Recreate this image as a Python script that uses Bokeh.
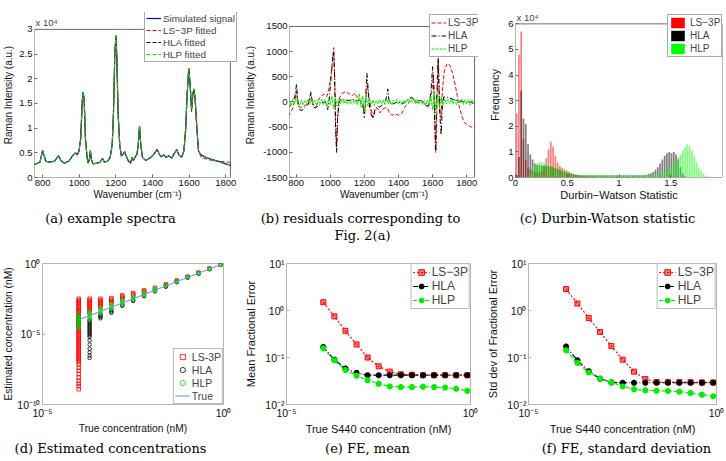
from bokeh.plotting import figure
from bokeh.models import (Range1d, FixedTicker, CustomJSTickFormatter, Legend,
                          LegendItem, Label)
from bokeh.layouts import row, column
from bokeh.embed import file_html
from bokeh.resources import INLINE

SANS = "Liberation Sans"
SERIF = "DejaVu Serif"
RED, BLACK, GREEN, BLUE = "#ff0000", "#000000", "#00ee00", "#0000ff"
NAN = float("nan")

# ---------------- (a) example spectra ----------------
wn_a = [754, 786, 800, 818, 839, 866, 887, 901, 919, 946, 963, 978, 990, 999, 1008, 1017, 1022,
        1027, 1034, 1043, 1049, 1056, 1061, 1066, 1075, 1097, 1114, 1127, 1137, 1155, 1169, 1180,
        1187, 1194, 1200, 1205, 1212, 1221, 1230, 1240, 1248, 1256, 1269, 1280, 1288, 1295, 1304,
        1315, 1322, 1329, 1336, 1345, 1363, 1390, 1407, 1425, 1437, 1448, 1461, 1475, 1487, 1505,
        1518, 1532, 1542, 1558, 1571, 1581, 1588, 1596, 1599, 1606, 1613, 1620, 1626, 1633, 1642,
        1651, 1665, 1692, 1727, 1763, 1798, 1825]
sim_signal = [2600, 3100, 5480, 3300, 3100, 3300, 4400, 3400, 2900, 3400, 4400, 5000, 4700, 5350,
              7900, 15700, 17300, 15700, 7900, 4060, 2900, 3740, 5480, 3740, 2770, 2900, 3100, 3900,
              3100, 3300, 4060, 6640, 13100, 24700, 28700, 24700, 13100, 6640, 4390, 4700, 5220,
              4390, 3290, 2900, 4060, 3420, 4060, 4700, 6640, 10380, 6640, 4060, 3420, 4060, 4700,
              5680, 4700, 4190, 4580, 4060, 4390, 3930, 4840, 5680, 4700, 4060, 5350, 9870, 16300,
              21150, 21800, 18250, 13700, 16960, 17930, 15670, 9870, 5350, 4580, 4060, 3610, 3220,
              2770, 2500]
ls3p_fit = [2600, 3100, 5480, 3300, 3100, 3300, 4400, 3400, 2900, 3400, 4400, 5000, 4500, 5350,
            7900, 15700, 17300, 15700, 7900, 4060, 2900, 3740, 5480, 3740, 2770, 2900, 3100, 3900,
            3100, 3300, 4060, 6640, 13100, 24700, 28700, 24700, 13100, 6640, 4390, 4700, 5220,
            4390, 3290, 2900, 4060, 3420, 4060, 4700, 6640, 10380, 6640, 4060, 3420, 4060, 4700,
            5680, 4700, 4190, 4580, 4060, 4390, 3930, 4840, 5680, 4700, 4060, 5350, 9870, 16300,
            21400, 22300, 18250, 13300, 16960, 17930, 15670, 9870, 5350, 4100, 3750, 3450, 3300,
            3150, 3100]
hla_fit = list(sim_signal)
hlp_fit = list(sim_signal)
A_XLIM, A_YLIM = (756, 1825), (0, 30000)

# ---------------- (b) residuals ----------------
ls3p_res_x = [754, 773, 792, 802, 811, 825, 840, 860, 875, 889, 899, 917, 937, 951, 966, 980, 991,
              1005, 1015, 1020, 1026, 1031, 1037, 1043, 1053, 1072, 1092, 1111, 1131, 1144, 1160,
              1173, 1189, 1200, 1208, 1218, 1227, 1241, 1251, 1262, 1276, 1291, 1305, 1320, 1334,
              1347, 1363, 1382, 1401, 1421, 1434, 1450, 1469, 1483, 1498, 1518, 1537, 1556, 1575,
              1595, 1605, 1614, 1620, 1626, 1634, 1641, 1649, 1657, 1668, 1682, 1691, 1701, 1711,
              1724, 1740, 1753, 1769, 1782, 1798, 1817, 1840]
ls3p_res = [-283, -184, 13, 210, -50, -118, -86, -50, 13, 110, -50, -86, 80, 130, 160, 110, 240,
            540, 870, 1080, 540, -450, -900, -316, 80, 178, 210, 160, 130, 178, 80, 46, -20, -316,
            13, 342, 80, -151, -316, -184, -118, -217, -151, -118, -118, -217, -263, -237, -263,
            -217, -118, -50, 13, 80, 13, -20, 13, -50, -118, 210, 540, -450, -975, 13, 870, -118,
            -316, 210, 605, 737, 770, 724, 638, 474, 210, -50, -250, -382, -447, -480, -520]
hla_res_x = [754, 773, 792, 802, 811, 820, 835, 850, 870, 887, 895, 910, 930, 950, 970, 985, 995,
             1005, 1015, 1020, 1026, 1031, 1037, 1043, 1053, 1070, 1090, 1110, 1130, 1150, 1170,
             1190, 1200, 1208, 1215, 1222, 1230, 1240, 1250, 1262, 1275, 1290, 1305, 1320, 1330,
             1337, 1345, 1360, 1380, 1400, 1420, 1440, 1460, 1475, 1490, 1510, 1530, 1550, 1565,
             1580, 1590, 1600, 1607, 1612, 1617, 1622, 1627, 1632, 1637, 1643, 1650, 1657, 1665,
             1680, 1700, 1720, 1740, 1760, 1780, 1800, 1820, 1840]
hla_res = [-100, -50, 100, 350, -20, -150, -170, -100, -50, 200, -40, -120, -80, -20, 0, -150, 100,
           500, 900, 1000, 400, -500, -1000, -300, 30, 60, 40, 30, 50, 20, 30, -50, -250, 150, 570,
           250, -100, -250, -320, -150, -80, -100, -60, -20, 100, 260, 20, -50, -20, 0, -30, -10,
           40, 100, 50, 20, 30, -30, -80, -50, 200, 700, 300, -400, -1000, -200, 400, 850, 300,
           -300, -650, -100, 100, 100, 80, 50, 30, 20, 0, -20, 0, -30]
hlp_res_x = list(range(760, 1841, 10))
hlp_res = [20, -60, 50, -40, 90, -30, -80, 40, -60, 30,
           -20, 60, -50, 80, -40, 30, -70, 50, -30, 60,
           -50, 40, -90, 70, -60, 120, -130, 100, -80, 60,
           -40, 50, -30, 40, -50, 30, -40, 60, -30, 40,
           -60, 170, -100, 120, -200, 150, -80, 60, -50, 40,
           -70, 30, -40, 50, -30, 40, -50, 60, -40, 30,
           -50, 40, -30, 50, -40, 30, -50, 40, -30, 60,
           -20, 80, -10, 60, -40, 50, -30, 40, -50, 30,
           -60, 40, -80, 120, -150, 200, -250, 150, -120, 100,
           -60, 70, -40, 50, -30, 60, -40, 50, -50, 40,
           -30, 60, -50, 40, -40, 50, -60, 40, -30]
B_XLIM, B_YLIM = (761, 1846), (-1500, 1500)

# ---------------- (c) Durbin-Watson histograms (counts in units of 1e4) ----------------
dw_bin_start, dw_bin_width = 0.0, 0.022
ls3p_dw = [2.5, 4.8, 5.7, 1.5, 0.7, 0.4, 0.3, 0.25, 0.2, 0.2,
           0.22, 0.25, 0.45, 0.75, 1.1, 1.4, 1.2, 0.85, 0.6, 0.45,
           0.38, 0.32, 0.27, 0.22, 0.18, 0.14, 0.11, 0.09, 0.07, 0.06,
           0.05, 0.05, 0.04, 0.04, 0.04, 0.03, 0.03, 0.03, 0.03, 0.03,
           0.02, 0.02, 0.02, 0.02, 0.02, 0.02, 0.02, 0.02, 0.02, 0.02,
           0.02, 0.01, 0.01, 0.01, 0.01, 0.01, 0.01, 0.01, 0.01, 0.01,
           0.01, 0, 0, 0, 0, 0, 0, 0, 0, 0,
           0, 0, 0, 0, 0, 0, 0, 0, 0, 0,
           0, 0, 0, 0, 0, 0, 0, 0, 0, 0]
hla_dw = [0.1, 0.8, 3.4, 2.3, 2.1, 1.3, 0.9, 0.7, 0.55, 0.5,
          0.48, 0.47, 0.46, 0.45, 0.44, 0.42, 0.4, 0.37, 0.33, 0.3,
          0.26, 0.22, 0.19, 0.16, 0.14, 0.12, 0.11, 0.1, 0.1, 0.1,
          0.09, 0.09, 0.09, 0.09, 0.09, 0.09, 0.09, 0.09, 0.09, 0.09,
          0.09, 0.09, 0.09, 0.09, 0.09, 0.09, 0.09, 0.09, 0.09, 0.09,
          0.09, 0.09, 0.09, 0.09, 0.09, 0.09, 0.1, 0.12, 0.14, 0.17,
          0.22, 0.3, 0.4, 0.55, 0.7, 0.85, 0.95, 1.0, 0.95, 1.0,
          0.9, 0.7, 0.4, 0.15, 0.05, 0, 0, 0, 0, 0,
          0, 0, 0, 0, 0, 0, 0, 0, 0, 0]
hlp_dw = [0, 0, 0, 0, 0, 0.05, 0.2, 0.35, 0.48, 0.55,
          0.6, 0.6, 0.57, 0.53, 0.5, 0.47, 0.44, 0.41, 0.38, 0.34,
          0.3, 0.26, 0.22, 0.19, 0.16, 0.14, 0.12, 0.11, 0.1, 0.1,
          0.1, 0.1, 0.1, 0.1, 0.1, 0.1, 0.1, 0.1, 0.1, 0.1,
          0.09, 0.09, 0.09, 0.09, 0.09, 0.09, 0.09, 0.09, 0.09, 0.09,
          0.09, 0.09, 0.09, 0.09, 0.09, 0.09, 0.09, 0.09, 0.09, 0.09,
          0.1, 0.11, 0.13, 0.15, 0.18, 0.22, 0.28, 0.35, 0.45, 0.55,
          0.68, 0.8, 0.92, 1.05, 1.18, 1.3, 1.22, 1.05, 0.85, 0.6,
          0.4, 0.25, 0.15, 0.08, 0.05, 0.03, 0.02, 0.01, 0, 0]
C_XLIM, C_YLIM = (0, 2.0), (0, 60000)

# ---------------- (d)-(f) concentrations ----------------
true_conc = [1e-4, 2e-4, 4e-4, 8e-4, 1.6e-3, 3.2e-3, 6.4e-3, 1.28e-2, 2.56e-2, 5.12e-2,
             0.1024, 0.2048, 0.4096, 0.8192]
ls3p_est = [
    [3.2e-3, 2.5e-3, 2e-3, 1.6e-3, 1.3e-3, 1e-3, 8e-4, 6.3e-4, 5e-4, 4e-4, 3.2e-4, 2.5e-4, 2e-4,
     1.6e-4, 1.3e-4, 1e-4, 8e-5, 6.3e-5, 5e-5, 4e-5, 3.2e-5, 2.5e-5, 2e-5, 1.6e-5, 1.3e-5,
     1e-5, 8e-6, 6.3e-6, 5e-6, 4e-6, 3.2e-6, 2.5e-6, 2e-6, 1.6e-6, 1.3e-6, 1e-6, 8e-7, 6.3e-7,
     5e-7, 4e-7, 3.2e-7, 2.5e-7, 2e-7, 1.6e-7, 1.3e-7, 1e-7, 7e-8, 4e-8, 2.5e-8, 1.5e-8, 8e-9,
     5e-9, 3e-9, 2e-9, 1.2e-9],
    [3.2e-3, 2.5e-3, 2e-3, 1.6e-3, 1.3e-3, 1e-3, 8e-4, 6.3e-4, 5e-4, 4e-4, 3.2e-4],
    [3.2e-3, 2.5e-3, 2e-3, 1.6e-3, 1.3e-3, 1e-3, 8e-4],
    [3.5e-3, 2.8e-3, 2.2e-3, 1.8e-3, 1.5e-3],
    [5.5e-3, 4.5e-3, 3.7e-3, 3e-3],
    [8e-3, 6.5e-3, 5.3e-3],
    [1.25e-2, 1.05e-2, 9e-3],
    [1.9e-2, 1.6e-2],
    [3.3e-2, 2.9e-2],
    [6.2e-2, 5.6e-2],
    [0.115, 0.108],
    [0.222, 0.212],
    [0.43, 0.42],
    [0.85, 0.83],
]
hla_est = [
    [2e-4, 1.3e-4, 8e-5, 5e-5, 3.5e-5],
    [1e-4, 8e-5, 6.3e-5, 5e-5, 4e-5, 3.2e-5, 2.5e-5, 2e-5, 1.6e-5, 1.3e-5, 1e-5, 8e-6, 6.3e-6,
     3.5e-6, 1.8e-6, 9e-7, 5e-7, 3e-7, 2e-7],
    [2.5e-4, 2e-4, 1.6e-4, 1.3e-4],
    [5e-4, 4e-4, 3.2e-4],
    [1.2e-3, 1e-3],
    [2.5e-3, 2.2e-3],
    [5.2e-3, 4.8e-3],
    [1.15e-2, 1.05e-2],
    [2.4e-2, 2.25e-2],
    [4.9e-2, 4.7e-2],
    [0.099, 0.096],
    [0.2, 0.195],
    [0.405, 0.4],
    [0.815, 0.81],
]
hlp_est = [
    [2.5e-4, 2e-4, 1.6e-4, 1.3e-4, 1e-4, 8e-5, 6.3e-5, 5e-5, 4e-5, 3.2e-5, 2.6e-5],
    [4e-4, 3.2e-4, 2.5e-4, 2e-4, 1.6e-4, 1.3e-4, 1e-4],
    [7e-4, 5.6e-4, 4.5e-4, 3.6e-4, 2.8e-4],
    [1.4e-3, 1.15e-3, 9e-4, 7.2e-4, 5.8e-4],
    [2.6e-3, 2.2e-3, 1.8e-3, 1.5e-3, 1.25e-3],
    [4.8e-3, 4e-3, 3.3e-3, 2.8e-3],
    [9e-3, 7.6e-3, 6.4e-3, 5.5e-3],
    [1.6e-2, 1.4e-2, 1.25e-2, 1.12e-2],
    [3.0e-2, 2.7e-2, 2.5e-2],
    [5.8e-2, 5.3e-2, 4.9e-2],
    [0.112, 0.103, 0.095],
    [0.22, 0.205, 0.19],
    [0.43, 0.41, 0.39],
    [0.85, 0.82, 0.79],
]
fe_mean_ls3p = [1.50, 0.75, 0.37, 0.19, 0.10, 0.065, 0.050, 0.044, 0.043, 0.042, 0.042, 0.042, 0.042, 0.042]
fe_mean_hla = [0.167, 0.090, 0.058, 0.047, 0.042, 0.042, 0.042, 0.042, 0.042, 0.042, 0.042, 0.042, 0.042, 0.042]
fe_mean_hlp = [0.158, 0.087, 0.054, 0.041, 0.033, 0.0275, 0.0243, 0.0235, 0.0235, 0.024, 0.0235, 0.0229, 0.0216, 0.0195]
fe_std_ls3p = [2.86, 1.41, 0.69, 0.35, 0.175, 0.090, 0.050, 0.0347, 0.030, 0.0299, 0.0299, 0.0299, 0.0295, 0.0295]
fe_std_hla = [0.171, 0.087, 0.051, 0.0355, 0.0295, 0.029, 0.029, 0.029, 0.029, 0.029, 0.029, 0.029, 0.029, 0.029]
fe_std_hlp = [0.142, 0.077, 0.048, 0.0355, 0.0295, 0.0243, 0.021, 0.020, 0.0196, 0.0194, 0.0187, 0.0176, 0.0162, 0.015]

captions_top = ["(a) example spectra", "(b) residuals corresponding to", "Fig. 2(a)",
                "(c) Durbin-Watson statistic"]
captions_bottom = ["(d) Estimated concentrations", "(e) FE, mean", "(f) FE, standard deviation"]

DARK = "#6a6a6a"
LIGHT = "#b5b5b5"


# ---------------- helpers ----------------
def make_fig(w, h, left, right, top, bottom, xr, yr, xtype="linear", ytype="linear",
             frame=DARK, tick_size="9.5px", label_size="10px", boxed=False):
    p = figure(width=w, height=h, x_range=Range1d(*xr), y_range=Range1d(*yr),
               x_axis_type=xtype, y_axis_type=ytype, toolbar_location=None,
               output_backend="svg")
    p.min_border_left, p.min_border_right = left, right
    p.min_border_top, p.min_border_bottom = top, bottom
    p.xgrid.visible = False
    p.ygrid.visible = False
    p.outline_line_color = None if boxed else frame
    p.background_fill_color = "white"
    p.border_fill_color = "white"
    for ax in p.axis:
        ax.major_tick_in, ax.major_tick_out = 3, 0
        ax.minor_tick_in, ax.minor_tick_out = 0, 0
        ax.axis_line_color = None if boxed else frame
        ax.major_tick_line_color = frame
        ax.major_label_text_font = SANS
        ax.major_label_text_font_size = tick_size
        ax.major_label_text_color = "#111111"
        ax.axis_label_text_font = SANS
        ax.axis_label_text_font_size = label_size
        ax.axis_label_text_font_style = "normal"
        ax.axis_label_text_color = "#111111"
        ax.major_label_standoff = 2
        ax.axis_label_standoff = 2
    return p


def draw_box(p, xlim, ylim, color=DARK):
    p.quad(left=[xlim[0]], right=[xlim[1]], bottom=[ylim[0]], top=[ylim[1]],
           fill_color=None, line_color=color, line_width=1)


def style_legend(leg, size="10px", glyph_w=15, item_h=12, spacing=0, padding=2,
                 border="#555555", standoff=2):
    leg.label_text_font = SANS
    leg.label_text_font_size = size
    leg.glyph_width = glyph_w
    leg.glyph_height = item_h
    leg.label_height = item_h
    leg.label_width = 10
    leg.label_standoff = standoff
    leg.spacing = spacing
    leg.padding = padding
    leg.margin = 0
    leg.border_line_color = border
    leg.border_line_width = 1
    leg.background_fill_color = "white"
    leg.background_fill_alpha = 1.0


def caption_strip(w, h, items):
    p = figure(width=w, height=h, x_range=Range1d(0, w), y_range=Range1d(0, h),
               x_axis_location=None, y_axis_location=None, toolbar_location=None,
               output_backend="svg", min_border=0)
    p.min_border_left = p.min_border_right = p.min_border_top = p.min_border_bottom = 0
    p.xgrid.visible = False
    p.ygrid.visible = False
    p.outline_line_color = None
    p.background_fill_color = "white"
    p.border_fill_color = "white"
    for text, x, y in items:
        p.add_layout(Label(x=x, y=y, text=text, text_font=SERIF, text_font_size="13px",
                           text_align="center", text_baseline="middle", text_color="#000000"))
    return p


scaled1e4 = CustomJSTickFormatter(code="return String(Math.round(tick / 1000) / 10);")
plain_fmt = CustomJSTickFormatter(code="return String(tick);")
sup_fmt = CustomJSTickFormatter(code="""
const e = Math.round(Math.log10(tick));
const m = {'-':'\u207b','0':'\u2070','1':'\u00b9','2':'\u00b2','3':'\u00b3','4':'\u2074',
           '5':'\u2075','6':'\u2076','7':'\u2077','8':'\u2078','9':'\u2079'};
return '10' + String(e).split('').map(c => m[c]).join('');
""")

# ---------------- panel (a) ----------------
pa = make_fig(242, 206, 29, 2, 5, 28, (756, 1880), (0, 33420), boxed=True)
draw_box(pa, A_XLIM, A_YLIM)
pa.xaxis.ticker = FixedTicker(ticks=[800, 1000, 1200, 1400, 1600, 1800])
pa.yaxis.ticker = FixedTicker(ticks=[0, 5000, 10000, 15000, 20000, 25000, 30000])
pa.yaxis.formatter = scaled1e4
pa.xaxis.axis_label = "Wavenumber (cm\u207b\u00b9)"
pa.yaxis.axis_label = "Raman Intensity (a.u.)"
pa.xaxis.axis_label_standoff = 0
ra1 = pa.line(wn_a, sim_signal, line_color=BLUE, line_width=1.2)
ra2 = pa.line(wn_a, ls3p_fit, line_color=RED, line_width=1, line_dash="4 2")
ra3 = pa.line(wn_a, hla_fit, line_color=BLACK, line_width=1, line_dash="4 2")
ra4 = pa.line(wn_a, hlp_fit, line_color=GREEN, line_width=1, line_dash="4 2")
leg_a = Legend(items=[LegendItem(label="Simulated signal", renderers=[ra1]),
                      LegendItem(label="LS\u22123P fitted", renderers=[ra2]),
                      LegendItem(label="HLA fitted", renderers=[ra3]),
                      LegendItem(label="HLP fitted", renderers=[ra4])],
               location=(110, 115))
style_legend(leg_a, size="9.8px", padding=1)
pa.add_layout(leg_a)
pa.add_layout(Label(x=A_XLIM[0], y=A_YLIM[1], x_offset=1, y_offset=1, text="x 10\u2074",
                    text_font=SANS, text_font_size="9.5px", text_baseline="bottom"))

# ---------------- panel (b) ----------------
pb = make_fig(242, 206, 45, 6, 12, 29, (761, 1869), (-1500, 1778), boxed=True)
draw_box(pb, B_XLIM, B_YLIM)
pb.xaxis.ticker = FixedTicker(ticks=[800, 1000, 1200, 1400, 1600, 1800])
pb.yaxis.ticker = FixedTicker(ticks=[-1500, -1000, -500, 0, 500, 1000, 1500])
pb.yaxis.formatter = plain_fmt
pb.xaxis.axis_label = "Wavenumber (cm\u207b\u00b9)"
pb.yaxis.axis_label = "Raman Intensity (a.u.)"
pb.xaxis.axis_label_standoff = 0
pb.yaxis.axis_label_standoff = 4
rb1 = pb.line(ls3p_res_x, ls3p_res, line_color=RED, line_width=1, line_dash="4 2")
rb2 = pb.line(hla_res_x, hla_res, line_color=BLACK, line_width=1, line_dash="5 2 1 2")
rb3 = pb.line(hlp_res_x, hlp_res, line_color=GREEN, line_width=1, line_dash="3 1")
leg_b = Legend(items=[LegendItem(label="LS\u22123P", renderers=[rb1]),
                      LegendItem(label="HLA", renderers=[rb2]),
                      LegendItem(label="HLP", renderers=[rb3])],
               location=(140, 120))
style_legend(leg_b, item_h=13, padding=1)
pb.add_layout(leg_b)

# ---------------- panel (c) ----------------
pc = make_fig(242, 206, 31, 4, 4, 28, C_XLIM, (0, 64444), label_size="11px", boxed=True)
draw_box(pc, C_XLIM, C_YLIM)
pc.xaxis.ticker = FixedTicker(ticks=[0, 0.5, 1, 1.5])
pc.xaxis.formatter = plain_fmt
pc.yaxis.ticker = FixedTicker(ticks=[0, 10000, 20000, 30000, 40000, 50000, 60000])
pc.yaxis.formatter = scaled1e4
pc.xaxis.axis_label = "Durbin\u2212Watson Statistic"
pc.yaxis.axis_label = "Frequency"
pc.xaxis.axis_label_standoff = 0
pc.yaxis.axis_label_standoff = 4
centers = [dw_bin_start + dw_bin_width * (i + 0.5) for i in range(len(ls3p_dw))]
for counts, col in ((ls3p_dw, RED), (hla_dw, BLACK), (hlp_dw, "#00ff00")):
    pc.vbar(x=centers, top=[c * 1e4 for c in counts], width=dw_bin_width * 0.75,
            fill_color=col, fill_alpha=0.5, line_color=None)
lc = [pc.vbar(x=[NAN], top=[NAN], width=0.01, fill_color=col, line_color=None)
      for col in (RED, BLACK, "#00ff00")]
leg_c = Legend(items=[LegendItem(label="LS\u22123P", renderers=[lc[0]]),
                      LegendItem(label="HLA", renderers=[lc[1]]),
                      LegendItem(label="HLP", renderers=[lc[2]])],
               location=(152, 120))
style_legend(leg_c, item_h=13, padding=1, glyph_w=17, standoff=4)
pc.add_layout(leg_c)
pc.add_layout(Label(x=C_XLIM[0], y=C_YLIM[1], x_offset=1, y_offset=1, text="x 10\u2074",
                    text_font=SANS, text_font_size="9.5px", text_baseline="bottom"))

# ---------------- panel (d) ----------------
pd_ = make_fig(242, 194, 37, 19, 19, 30, (1e-5, 1), (1e-10, 1), "log", "log",
               frame=LIGHT, tick_size="10.5px", label_size="10.2px")
pd_.xaxis.ticker = FixedTicker(ticks=[1e-5, 1])
pd_.yaxis.ticker = FixedTicker(ticks=[1e-10, 1e-5, 1])
pd_.xaxis.formatter = sup_fmt
pd_.yaxis.formatter = sup_fmt
pd_.xaxis.axis_label = "True concentration (nM)"
pd_.yaxis.axis_label = "Estimated concentration (nM)"
pd_.xaxis.axis_label_standoff = 1
pd_.yaxis.axis_label_standoff = 0


def flat(est):
    xs, ys = [], []
    for c, vals in zip(true_conc, est):
        xs += [c] * len(vals)
        ys += vals
    return xs, ys


x1, y1 = flat(ls3p_est)
x2, y2 = flat(hla_est)
x3, y3 = flat(hlp_est)
rd1 = pd_.scatter(x1, y1, marker="square", size=3.5, line_color=RED, fill_color=None, line_width=0.8)
rd2 = pd_.scatter(x2, y2, marker="circle", size=3.5, line_color=BLACK, fill_color=None, line_width=0.8)
rd3 = pd_.scatter(x3, y3, marker="circle", size=3.5, line_color="#00dd00", fill_color=None, line_width=0.8)
rd4 = pd_.line(true_conc, true_conc, line_color="#8080ff", line_width=1)
leg_d = Legend(items=[LegendItem(label="LS-3P", renderers=[rd1]),
                      LegendItem(label="HLA", renderers=[rd2]),
                      LegendItem(label="HLP", renderers=[rd3]),
                      LegendItem(label="True", renderers=[rd4])],
               location="bottom_right")
style_legend(leg_d, size="10.5px", item_h=13, padding=1, border="#777777")
pd_.add_layout(leg_d)


# ---------------- panels (e), (f) ----------------
def fe_panel(w, right, ylabel, s_ls3p, s_hla, s_hlp):
    p = make_fig(w, 194, 41, right, 20, 30, (1e-5, 1), (1e-2, 10), "log", "log",
                 frame=LIGHT, tick_size="10.5px", label_size="11px")
    p.xaxis.ticker = FixedTicker(ticks=[1e-5, 1])
    p.yaxis.ticker = FixedTicker(ticks=[1e-2, 1e-1, 1, 10])
    p.xaxis.formatter = sup_fmt
    p.yaxis.formatter = sup_fmt
    p.xaxis.axis_label = "True S440 concentration (nM)"
    p.yaxis.axis_label = ylabel
    p.xaxis.axis_label_standoff = 1
    p.yaxis.axis_label_standoff = 5
    l1 = p.line(true_conc, s_ls3p, line_color=RED, line_width=1.2, line_dash="2 2")
    m1 = p.scatter(true_conc, s_ls3p, marker="square", size=5, line_color=RED,
                   fill_color=RED, fill_alpha=0.5)
    l2 = p.line(true_conc, s_hla, line_color=BLACK, line_width=1.2, line_dash="5 2 1 2")
    m2 = p.scatter(true_conc, s_hla, marker="asterisk", size=6, line_color=BLACK, line_width=2)
    l3 = p.line(true_conc, s_hlp, line_color="#00ee00", line_width=1.2, line_dash="4 2")
    m3 = p.scatter(true_conc, s_hlp, marker="asterisk", size=6, line_color="#00ee00", line_width=2)
    leg = Legend(items=[LegendItem(label="LS\u22123P", renderers=[l1, m1]),
                        LegendItem(label="HLA", renderers=[l2, m2]),
                        LegendItem(label="HLP", renderers=[l3, m3])],
                 location="top_right")
    style_legend(leg, size="12px", glyph_w=17, item_h=14, spacing=0, padding=1,
                 border="#777777")
    p.add_layout(leg)
    return p


pe = fe_panel(242, 14, "Mean Fractional Error", fe_mean_ls3p, fe_mean_hla, fe_mean_hlp)
pf = fe_panel(242, 10, "Std dev of Fractional Error", fe_std_ls3p, fe_std_hla, fe_std_hlp)

# ---------------- caption strips ----------------
cap1 = caption_strip(726, 37, [(captions_top[0], 110, 25), (captions_top[1], 360, 25),
                               (captions_top[2], 362, 8), (captions_top[3], 607, 25)])
cap2 = caption_strip(726, 24, [(captions_bottom[0], 110, 13), (captions_bottom[1], 367, 13),
                               (captions_bottom[2], 626, 13)])

layout = column(row(pa, pb, pc), cap1, row(pd_, pe, pf), cap2)
open("out.html", "w").write(file_html(layout, INLINE, "Figure 2"))
